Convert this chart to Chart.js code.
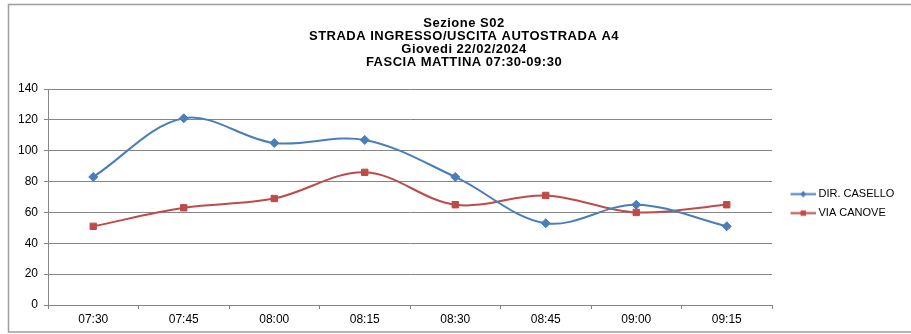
<!DOCTYPE html>
<html lang="it">
<head>
<meta charset="utf-8">
<title>Sezione S02 - Fascia mattina</title>
<script src="https://cdn.jsdelivr.net/npm/chart.js@4.4.1/dist/chart.umd.min.js"></script>
<style>
  html, body { margin: 0; padding: 0; background: #ffffff; }
  #wrap { width: 911px; height: 334px; position: relative; }
</style>
</head>
<body>
<div id="wrap"><canvas id="chart" width="911" height="334"></canvas></div>
<script>
// Time slots (15-minute intervals)
const categories = ['07:30', '07:45', '08:00', '08:15', '08:30', '08:45', '09:00', '09:15'];

// Vehicle counts per direction
const dirCasello = [83, 121, 105, 107, 83, 53, 65, 51];
const viaCanove  = [51, 63, 69, 86, 65, 71, 60, 65];

// Y axis range
const yMin = 0;
const yMax = 140;
const yStep = 20;

const titleLines = [
  'Sezione S02',
  'STRADA INGRESSO/USCITA AUTOSTRADA A4',
  'Giovedi 22/02/2024',
  'FASCIA MATTINA 07:30-09:30'
];

const BLUE = '#4A7EBB';
const RED = '#BE4B48';
const GRID = '#868686';
const FONT = 'Liberation Sans, Arial, Helvetica, sans-serif';

// Legend symbol: a short line with the series marker in the middle
function legendSymbol(color, shape) {
  const c = document.createElement('canvas');
  c.width = 39; c.height = 9;
  const g = c.getContext('2d');
  g.strokeStyle = color;
  g.lineWidth = 2;
  g.beginPath();
  g.moveTo(13.5, 4.5);
  g.lineTo(39, 4.5);
  g.stroke();
  g.fillStyle = color;
  const cx = 26.25, cy = 4.5;
  g.beginPath();
  if (shape === 'diamond') {
    g.moveTo(cx, cy - 3.2);
    g.lineTo(cx + 3.2, cy);
    g.lineTo(cx, cy + 3.2);
    g.lineTo(cx - 3.2, cy);
    g.closePath();
  } else {
    g.rect(cx - 2.7, cy - 2.7, 5.4, 5.4);
  }
  g.fill();
  return c;
}
const symbols = [legendSymbol(BLUE, 'diamond'), legendSymbol(RED, 'square')];

// Outer frame of the chart
const framePlugin = {
  id: 'frame',
  beforeDraw(chart) {
    const ctx = chart.ctx;
    ctx.save();
    ctx.fillStyle = '#ffffff';
    ctx.fillRect(0, 0, chart.width, chart.height);
    ctx.strokeStyle = '#9e9e9e';
    ctx.lineWidth = 1.5;
    ctx.strokeRect(8.5, 4.5, 930, 327.5);
    ctx.restore();
  }
};

// Fixed legend column width and slightly tracked title text
const boxTweaks = {
  id: 'boxTweaks',
  beforeLayout(chart) {
    const legend = chart.legend;
    if (legend && !legend._fixedWidth) {
      legend._fixedWidth = true;
      const fit = legend.fit.bind(legend);
      legend.fit = function () { fit(); this.width = 139; };
    }
    const tb = chart.titleBlock;
    if (tb && !tb._tracked) {
      tb._tracked = true;
      const draw = tb.draw.bind(tb);
      tb.draw = function () {
        const ctx = this.ctx;
        ctx.save();
        if ('letterSpacing' in ctx) ctx.letterSpacing = '0.5px';
        draw();
        ctx.restore();
      };
    }
  }
};

new Chart(document.getElementById('chart'), {
  type: 'line',
  data: {
    labels: categories,
    datasets: [
      {
        label: 'DIR. CASELLO',
        data: dirCasello,
        borderColor: BLUE,
        backgroundColor: BLUE,
        borderWidth: 2,
        pointStyle: 'rectRot',
        pointRadius: 4.5,
        pointBorderWidth: 1,
        pointBackgroundColor: BLUE,
        pointBorderColor: BLUE,
        tension: 0.35,
        fill: false
      },
      {
        label: 'VIA CANOVE',
        data: viaCanove,
        borderColor: RED,
        backgroundColor: RED,
        borderWidth: 2,
        pointStyle: 'rect',
        pointRadius: 4.5,
        pointBorderWidth: 1,
        pointBackgroundColor: RED,
        pointBorderColor: RED,
        tension: 0.35,
        fill: false
      }
    ]
  },
  options: {
    responsive: false,
    animation: false,
    devicePixelRatio: 1,
    layout: { padding: { left: 17, right: 0, top: 0, bottom: 0 } },
    plugins: {
      tooltip: { enabled: false },
      title: {
        display: true,
        text: titleLines,
        color: '#000000',
        font: { family: FONT, size: 13, weight: 'bold', lineHeight: '13px' },
        padding: { top: 16.5, bottom: 20.5 }
      },
      legend: {
        display: true,
        position: 'right',
        fullSize: false,
        title: { display: true, text: '', padding: 0, font: { family: FONT, size: 11 } },
        labels: {
          color: '#000000',
          font: { family: FONT, size: 11 },
          padding: 8,
          usePointStyle: true,
          pointStyleWidth: 33,
          generateLabels(chart) {
            const items = Chart.defaults.plugins.legend.labels.generateLabels(chart);
            items.forEach((it, i) => { it.pointStyle = symbols[i]; });
            return items;
          }
        }
      }
    },
    scales: {
      x: {
        type: 'category',
        offset: true,
        grid: {
          display: true,
          offset: true,
          drawOnChartArea: false,
          drawTicks: true,
          tickLength: 4,
          color: GRID
        },
        border: { display: true, color: GRID, width: 1 },
        ticks: {
          color: '#000000',
          font: { family: FONT, size: 12 },
          padding: 3,
          maxRotation: 0,
          autoSkip: false
        },
        afterFit(scale) { scale.height = 29; }
      },
      y: {
        min: yMin,
        max: yMax,
        grid: {
          color: GRID,
          drawTicks: true,
          tickLength: 4
        },
        border: { display: true, color: GRID, width: 1 },
        ticks: {
          stepSize: yStep,
          color: '#000000',
          font: { family: FONT, size: 12 },
          padding: 6
        },
        afterFit(scale) { scale.width = 31; }
      }
    }
  },
  plugins: [framePlugin, boxTweaks]
});
</script>
</body>
</html>
